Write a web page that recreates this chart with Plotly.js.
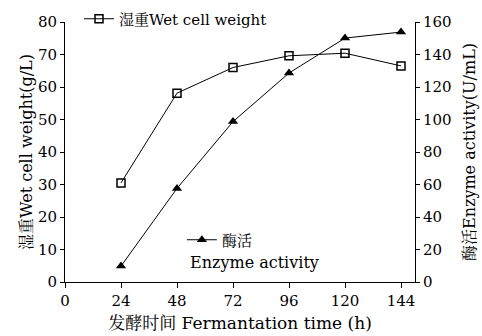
<!DOCTYPE html>
<html>
<head>
<meta charset="utf-8">
<script src="https://cdn.plot.ly/plotly-3.0.1.min.js"></script>
<style>html,body{margin:0;padding:0;background:#fff}#chart{width:482px;height:336px}</style>
</head>
<body>
<div id="chart"></div>
<script>
const hours = [24, 48, 72, 96, 120, 144];
const wetCellWeight = [30.5, 58.1, 66.0, 69.6, 70.4, 66.5];
const enzymeActivity = [9.8, 57.6, 98.7, 128.6, 150.1, 153.8];
const xTicks = [0, 24, 48, 72, 96, 120, 144];
const yLeftTicks = [0, 10, 20, 30, 40, 50, 60, 70, 80];
const yRightTicks = [0, 20, 40, 60, 80, 100, 120, 140, 160];

const FONT = "DejaVu Serif, Noto Serif CJK SC, Noto Sans CJK SC, serif";

const traces = [
  {
    x: hours, y: wetCellWeight, type: 'scatter', mode: 'lines+markers',
    name: '湿重Wet cell weight', legend: 'legend',
    line: {color: '#000', width: 1},
    marker: {symbol: 'square-open', size: 8, color: '#000', line: {width: 1.5, color: '#000'}},
    yaxis: 'y', cliponaxis: false
  },
  {
    x: hours, y: enzymeActivity, type: 'scatter', mode: 'lines+markers',
    name: '酶活', legend: 'legend2',
    line: {color: '#000', width: 1},
    marker: {symbol: 'triangle-up', size: 9, color: '#000'},
    yaxis: 'y2', cliponaxis: false
  }
];

const layout = {
  width: 482, height: 336,
  margin: {l: 65, r: 67, t: 22, b: 54, autoexpand: false},
  paper_bgcolor: '#fff', plot_bgcolor: '#fff',
  font: {family: FONT, size: 14, color: '#000'},
  showlegend: true,
  xaxis: {
    range: [0, 150], tickvals: xTicks, ticktext: xTicks.map(String),
    showgrid: false, zeroline: false, showline: true, linecolor: '#000', linewidth: 1,
    ticks: 'outside', ticklen: 5, tickcolor: '#000',
    tickfont: {family: FONT, size: 15},
    title: {text: '发酵时间 Fermantation time (h)', font: {family: FONT, size: 17}, standoff: 8}
  },
  yaxis: {
    range: [0, 80], tickvals: yLeftTicks,
    showgrid: false, zeroline: false, showline: true, linecolor: '#000', linewidth: 1,
    ticks: 'outside', ticklen: 4, tickcolor: '#000',
    tickfont: {family: FONT, size: 15},
    title: {text: '湿重Wet cell weight(g/L)', font: {family: FONT, size: 16}, standoff: 1}
  },
  yaxis2: {
    range: [0, 160], tickvals: yRightTicks, overlaying: 'y', side: 'right', anchor: 'x',
    showgrid: false, zeroline: false, showline: true, linecolor: '#000', linewidth: 1,
    ticks: 'outside', ticklen: 4, tickcolor: '#000',
    tickfont: {family: FONT, size: 15},
    title: {text: '酶活Enzyme activity(U/mL)', font: {family: FONT, size: 16}, standoff: 13}
  },
  legend: {
    x: 0.04, y: 1.075, xanchor: 'left', yanchor: 'top',
    bgcolor: 'rgba(0,0,0,0)', borderwidth: 0,
    font: {family: FONT, size: 15}, itemwidth: 30, tracegroupgap: 0
  },
  legend2: {
    x: 0.334, y: 0.225, xanchor: 'left', yanchor: 'top',
    bgcolor: 'rgba(0,0,0,0)', borderwidth: 0,
    font: {family: FONT, size: 15}, itemwidth: 30
  },
  annotations: [
    {text: 'Enzyme activity', xref: 'paper', yref: 'paper', x: 0.35, y: 0.075,
     xanchor: 'left', yanchor: 'middle', showarrow: false, font: {family: FONT, size: 16}}
  ]
};

Plotly.newPlot('chart', traces, layout, {displayModeBar: false, staticPlot: true});
</script>
</body>
</html>
